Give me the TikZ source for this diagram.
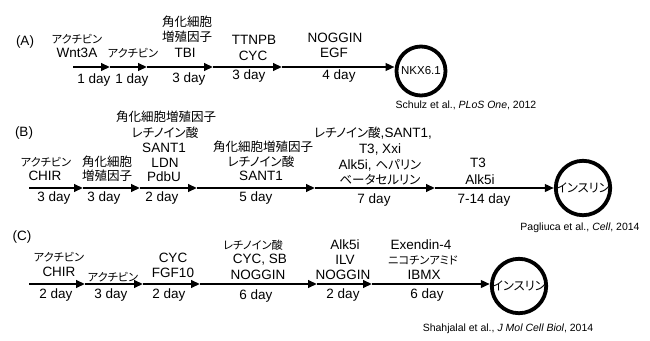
\documentclass[tikz,border=0pt]{standalone}
\usepackage{fontspec}
\setmainfont{Liberation Sans}
\newfontfamily\jp[RawFeature=+palt]{Noto Sans CJK JP}
\usetikzlibrary{arrows.meta}
\begin{document}
\begin{tikzpicture}[x=1pt,y=-1pt,
  lat/.style={inner sep=0pt,font=\fontsize{13.5}{15}\selectfont},
  jaL/.style={inner sep=0pt,font=\jp\fontsize{12.5}{15}\selectfont},
  jaS/.style={inner sep=0pt,font=\jp\fontsize{11.2}{12}\selectfont},
  cite/.style={inner sep=0pt,font=\fontsize{10.5}{12}\selectfont},
  arr/.style={line width=2.6pt,-{Triangle[length=9pt,width=7.5pt]}},
  endc/.style={circle,draw,line width=3.8pt,minimum size=49pt,inner sep=0pt}]
\useasboundingbox (0,0) rectangle (650,340);
% ---------------- Row A
\node[lat] (labA) at (25,42) {(A)};
\coordinate (a0) at (73,67);
\coordinate (a1) at (110,67);
\coordinate (a2) at (147,67);
\coordinate (a3) at (213,67);
\coordinate (a4) at (282,67);
\node[endc,font=\fontsize{11.5}{13}\selectfont] (nA) at (421,71) {NKX6.1};
\draw[arr] (a0) -- (a1);
\draw[arr] (a1) -- (a2);
\draw[arr] (a2) -- (a3);
\draw[arr] (a3) -- (a4);
\draw[arr] (a4) -- (a4 -| nA.west);
\node[jaS] (a1t1) at (77,39) {アクチビン};
\node[lat] (a1t2) at (77,53) {Wnt3A};
\node[lat] (a1d) at (94,80) {1 day};
\node[jaS] (a2t1) at (133,53) {アクチビン};
\node[lat] (a2d) at (132,80) {1 day};
\node[jaL] (a3t1) at (187,22) {角化細胞};
\node[jaL] (a3t2) at (187,37) {増殖因子};
\node[lat] (a3t3) at (185,53) {TBI};
\node[lat] (a3d) at (189,79) {3 day};
\node[lat] (a4t1) at (254,40) {TTNPB};
\node[lat] (a4t2) at (253,56) {CYC};
\node[lat] (a4d) at (249,76) {3 day};
\node[lat] (a5t1) at (335,38) {NOGGIN};
\node[lat] (a5t2) at (334,53) {EGF};
\node[lat] (a5d) at (339,76) {4 day};
\node[cite] (citeA) at (466,105) {Schulz et al., \textit{PLoS One}, 2012};
% ---------------- Row B
\node[lat] (labB) at (24,133) {(B)};
\coordinate (b0) at (29,188);
\coordinate (b1) at (83,188);
\coordinate (b2) at (140,188);
\coordinate (b3) at (197,188);
\coordinate (b4) at (315,188);
\coordinate (b5) at (435,188);
\node[endc,font=\jp\fontsize{12.3}{13}\selectfont] (nB) at (583,188) {インスリン};
\draw[arr] (b0) -- (b1);
\draw[arr] (b1) -- (b2);
\draw[arr] (b2) -- (b3);
\draw[arr] (b3) -- (b4);
\draw[arr] (b4) -- (b5);
\draw[arr] (b5) -- (nB.west);
\node[jaS] (b1t1) at (46,162) {アクチビン};
\node[lat] (b1t2) at (45,176) {CHIR};
\node[lat] (b1d) at (54,198) {3 day};
\node[jaL] (b2t1) at (107,162) {角化細胞};
\node[jaL] (b2t2) at (107,176) {増殖因子};
\node[lat] (b2d) at (104,198) {3 day};
\node[jaL] (b3t1) at (166,117) {角化細胞増殖因子};
\node[jaL] (b3t2) at (165,133) {レチノイン酸};
\node[lat] (b3t3) at (164,148) {SANT1};
\node[lat] (b3t4) at (165,163) {LDN};
\node[lat] (b3t5) at (164,177) {PdbU};
\node[lat] (b3d) at (162,198) {2 day};
\node[jaL] (b4t1) at (263,147) {角化細胞増殖因子};
\node[jaL] (b4t2) at (261,162) {レチノイン酸};
\node[lat] (b4t3) at (261,176) {SANT1};
\node[lat] (b4d) at (256,198) {5 day};
\node[lat] (b5t1) at (373,133) {{\jp\fontsize{12.5}{15}\selectfont レチノイン酸},SANT1,};
\node[lat] (b5t2) at (380,149) {T3, Xxi};
\node[lat] (b5t3) at (380,165) {Alk5i, {\jp\fontsize{12.5}{15}\selectfont ヘパリン}};
\node[jaL] (b5t4) at (380,180) {ベータセルリン};
\node[lat] (b5d) at (374,200) {7 day};
\node[lat] (b6t1) at (478,163) {T3};
\node[lat] (b6t2) at (480,180) {Alk5i};
\node[lat] (b6d) at (484,200) {7-14 day};
\node[cite] (citeB) at (580,228) {Pagliuca et al., \textit{Cell}, 2014};
% ---------------- Row C
\node[lat] (labC) at (22,237) {(C)};
\coordinate (c0) at (29,284);
\coordinate (c1) at (85,284);
\coordinate (c2) at (143,284);
\coordinate (c3) at (200,284);
\coordinate (c4) at (317,284);
\coordinate (c5) at (372,284);
\node[endc,font=\jp\fontsize{12.3}{13}\selectfont] (nC) at (519,286) {インスリン};
\draw[arr] (c0) -- (c1);
\draw[arr] (c1) -- (c2);
\draw[arr] (c2) -- (c3);
\draw[arr] (c3) -- (c4);
\draw[arr] (c4) -- (c5);
\draw[arr] (c5) -- (c5 -| nC.west);
\node[jaS] (c1t1) at (59,257) {アクチビン};
\node[lat] (c1t2) at (59,272) {CHIR};
\node[lat] (c1d) at (56,295) {2 day};
\node[jaS] (c2t1) at (113,277) {アクチビン};
\node[lat] (c2d) at (111,295) {3 day};
\node[lat] (c3t1) at (173,258) {CYC};
\node[lat] (c3t2) at (173,273) {FGF10};
\node[lat] (c3d) at (169,295) {2 day};
\node[jaS] (c4t1) at (253,245) {レチノイン酸};
\node[lat] (c4t2) at (260,260) {CYC, SB};
\node[lat] (c4t3) at (258,275) {NOGGIN};
\node[lat] (c4d) at (256,296) {6 day};
\node[lat] (c5t1) at (345,245) {Alk5i};
\node[lat] (c5t2) at (345,260) {ILV};
\node[lat] (c5t3) at (343,275) {NOGGIN};
\node[lat] (c5d) at (343,295) {2 day};
\node[lat] (c6t1) at (421,245) {Exendin-4};
\node[jaS] (c6t2) at (423,260) {ニコチンアミド};
\node[lat] (c6t3) at (424,275) {IBMX};
\node[lat] (c6d) at (427,295) {6 day};
\node[cite] (citeC) at (508,329) {Shahjalal et al., \textit{J Mol Cell Biol}, 2014};
\end{tikzpicture}
\end{document}
